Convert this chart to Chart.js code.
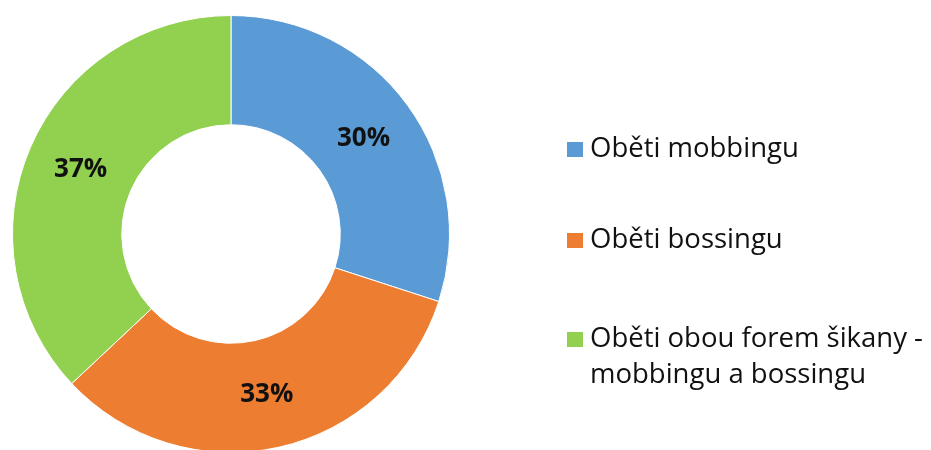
<!DOCTYPE html>
<html>
<head>
<meta charset="utf-8">
<script src="https://cdn.jsdelivr.net/npm/chart.js@4/dist/chart.umd.min.js"></script>
<style>
	html, body { margin: 0; padding: 0; background: #fff; overflow: hidden; }
	#wrap { position: absolute; left: 0; top: 0; width: 931px; height: 470px; }
</style>
</head>
<body>
<div id="wrap"><canvas id="canvas1" width="931" height="470"></canvas></div>
<script>
var labels = [
	["Oběti mobbingu"],
	["Oběti bossingu"],
	["Oběti obou forem šikany -", "mobbingu a bossingu"]
];
var values = [30, 33, 37];
var colors = ["#5B9BD5", "#ED7D31", "#92D050"];

// percent labels in the middle of each ring segment
var sliceLabels = {
	id: 'sliceLabels',
	afterDatasetsDraw: function(chart) {
		var ctx = chart.ctx;
		var meta = chart.getDatasetMeta(0);
		var total = values.reduce(function(a, b) { return a + b; }, 0);
		ctx.save();
		ctx.font = "bold 26px 'Open Sans'";
		ctx.fillStyle = "#111";
		ctx.textAlign = "center";
		ctx.textBaseline = "middle";
		meta.data.forEach(function(arc, i) {
			var p = arc.getCenterPoint();
			ctx.fillText(Math.round(values[i] / total * 100) + "%", p.x, p.y + 1);
		});
		ctx.restore();
	}
};

// legend on the right, drawn by hand so the third label can wrap
var sideLegend = {
	id: 'sideLegend',
	afterDraw: function(chart) {
		var ctx = chart.ctx;
		var baselines = [157, 248, 347];
		var lineGap = 36;
		ctx.save();
		ctx.font = "27.5px 'Open Sans'";
		ctx.textBaseline = "alphabetic";
		ctx.textAlign = "left";
		labels.forEach(function(lines, i) {
			var y = baselines[i];
			ctx.fillStyle = colors[i];
			ctx.fillRect(567, y - 15, 16, 15);
			ctx.fillStyle = "#111";
			lines.forEach(function(line, j) {
				ctx.fillText(line, 590, y + j * lineGap);
			});
		});
		ctx.restore();
	}
};

var ctx = document.getElementById('canvas1');
new Chart(ctx, {
	type: 'doughnut',
	data: {
		labels: labels,
		datasets: [{
			data: values,
			backgroundColor: colors,
			borderColor: "#fff",
			borderWidth: 1
		}]
	},
	options: {
		responsive: false,
		maintainAspectRatio: false,
		animation: false,
		cutout: '50%',
		layout: {
			padding: { left: 12, top: 15, right: 481, bottom: 17 }
		},
		plugins: {
			legend: { display: false },
			tooltip: { enabled: false }
		}
	},
	plugins: [sliceLabels, sideLegend]
});
</script>
</body>
</html>
